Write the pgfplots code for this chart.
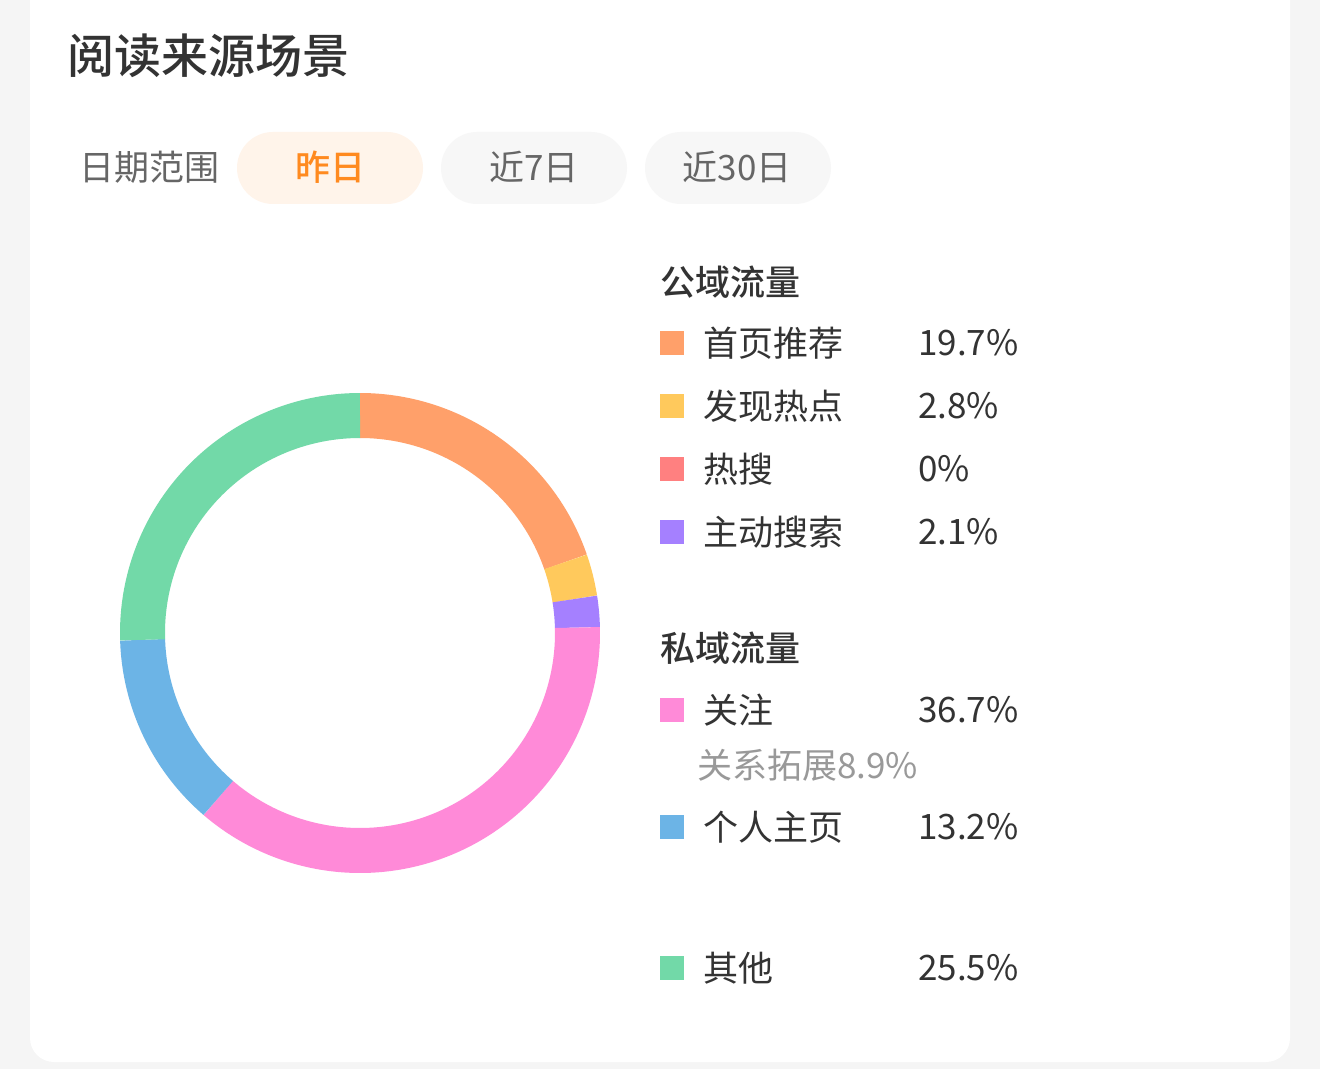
\documentclass[border=0pt]{standalone}
\usepackage{pgfplots}
\pgfplotsset{compat=1.18}
\usepgfplotslibrary{polar}
\usepackage{fontspec}
\setmainfont{Noto Sans CJK SC}
\newfontfamily\medfont{Noto Sans CJK SC}[UprightFont=* Medium]
\definecolor{bgC}{HTML}{F5F5F5}
\definecolor{txtC}{HTML}{333333}
\definecolor{subC}{HTML}{666666}
\definecolor{greyC}{HTML}{999999}
\definecolor{pillA}{HTML}{FFF4EA}
\definecolor{pillB}{HTML}{F7F7F7}
\definecolor{accC}{HTML}{FF8A1F}
\definecolor{orangeC}{HTML}{FFA06A}
\definecolor{yellowC}{HTML}{FFC95C}
\definecolor{redC}{HTML}{FF8080}
\definecolor{purpleC}{HTML}{A580FF}
\definecolor{pinkC}{HTML}{FF8AD8}
\definecolor{blueC}{HTML}{6CB4E6}
\definecolor{greenC}{HTML}{72D9A8}
% shares in percent
\def\pA{19.7}\def\pB{2.8}\def\pC{0}\def\pD{2.1}\def\pE{36.7}\def\pF{13.2}\def\pG{25.5}
\pgfmathsetmacro\aA{90}
\pgfmathsetmacro\aB{\aA-3.6*\pA}
\pgfmathsetmacro\aC{\aB-3.6*\pB}
\pgfmathsetmacro\aD{\aC-3.6*\pC}
\pgfmathsetmacro\aE{\aD-3.6*\pD}
\pgfmathsetmacro\aF{\aE-3.6*\pE}
\pgfmathsetmacro\aG{\aF-3.6*\pF}
\pgfmathsetmacro\aH{\aG-3.6*\pG}
\begin{document}
\begin{tikzpicture}[x=1pt,y=1pt]
\path[use as bounding box] (0,0) rectangle (1320,1069);
\fill[bgC] (0,0) rectangle (1320,1069);
\fill[white, rounded corners=24pt] (30,7) rectangle (1290,1110);
% title
\node[anchor=west, inner sep=0, text=txtC, font=\fontsize{47}{50}\selectfont\medfont] at (67,1013) {阅读来源场景};
\node[anchor=west, inner sep=0, text=subC, font=\fontsize{35}{40}\selectfont] at (79,902) {日期范围};
\fill[pillA, rounded corners=36pt] (237,865) rectangle (423,937);
\fill[pillB, rounded corners=36pt] (441,865) rectangle (627,937);
\fill[pillB, rounded corners=36pt] (645,865) rectangle (831,937);
\node[inner sep=0, text=accC, font=\fontsize{35}{40}\selectfont\medfont] at (330,902) {昨日};
\node[inner sep=0, text=subC, font=\fontsize{35}{40}\selectfont] at (534,902) {近7日};
\node[inner sep=0, text=subC, font=\fontsize{35}{40}\selectfont] at (737,902) {近30日};
% donut
\begin{polaraxis}[hide axis, scale only axis, width=480pt, height=480pt,
  ymin=0, ymax=240, clip=false, at={(360pt,436pt)}, anchor=center]
\addplot[domain=\aB:\aA, samples=120, line width=45pt, draw=orangeC, no markers] {217.5};
\addplot[domain=\aC:\aB, samples=20, line width=45pt, draw=yellowC, no markers] {217.5};
\addplot[domain=\aE:\aD, samples=20, line width=45pt, draw=purpleC, no markers] {217.5};
\addplot[domain=\aF:\aE, samples=200, line width=45pt, draw=pinkC, no markers] {217.5};
\addplot[domain=\aG:\aF, samples=80, line width=45pt, draw=blueC, no markers] {217.5};
\addplot[domain=\aH:\aG, samples=150, line width=45pt, draw=greenC, no markers] {217.5};
\end{polaraxis}
% legend
\tikzset{lab/.style={anchor=west, inner sep=0, text=txtC, font=\fontsize{35}{40}\selectfont},
         head/.style={anchor=west, inner sep=0, text=txtC, font=\fontsize{35}{40}\selectfont\medfont}}
\node[head] at (660,787) {公域流量};
\fill[orangeC] (660,714) rectangle (684,738);
\node[lab] at (703,726) {首页推荐}; \node[lab] at (918,726) {19.7\%};
\fill[yellowC] (660,651) rectangle (684,675);
\node[lab] at (703,663) {发现热点}; \node[lab] at (918,663) {2.8\%};
\fill[redC] (660,588) rectangle (684,612);
\node[lab] at (703,600) {热搜}; \node[lab] at (918,600) {0\%};
\fill[purpleC] (660,525) rectangle (684,549);
\node[lab] at (703,537) {主动搜索}; \node[lab] at (918,537) {2.1\%};
\node[head] at (660,421) {私域流量};
\fill[pinkC] (660,347) rectangle (684,371);
\node[lab] at (703,359) {关注}; \node[lab] at (918,359) {36.7\%};
\node[lab, text=greyC] at (697,304) {关系拓展8.9\%};
\fill[blueC] (660,230) rectangle (684,254);
\node[lab] at (703,242) {个人主页}; \node[lab] at (918,242) {13.2\%};
\fill[greenC] (660,89) rectangle (684,113);
\node[lab] at (703,101) {其他}; \node[lab] at (918,101) {25.5\%};
\end{tikzpicture}
\end{document}
